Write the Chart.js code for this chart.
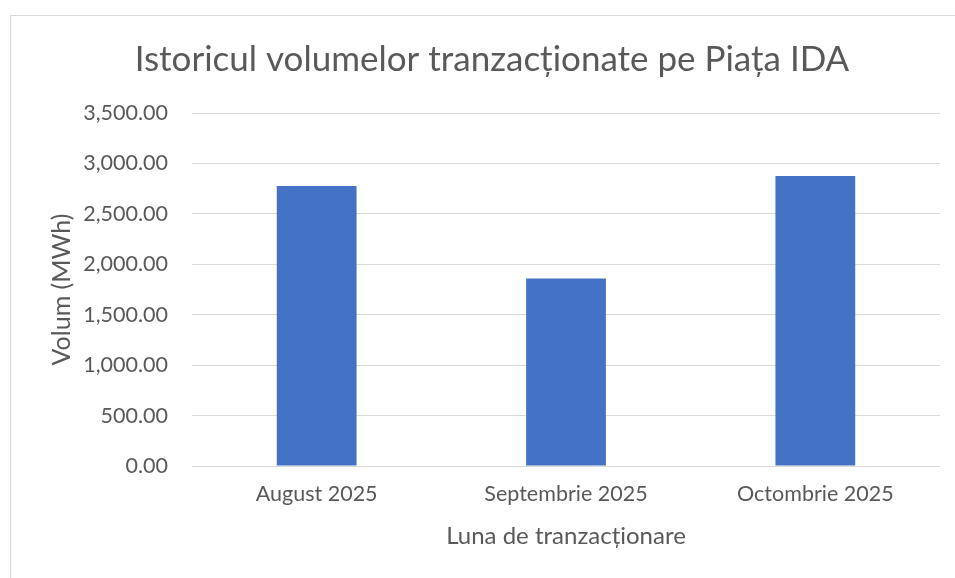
<!DOCTYPE html>
<html><head><meta charset="utf-8">
<script src="https://cdn.jsdelivr.net/npm/chart.js@4/dist/chart.umd.min.js"></script>
<style>
html,body{margin:0;padding:0;background:#fff;overflow:hidden;width:955px;height:578px;}
#frame{position:absolute;left:10px;top:15px;width:1000px;height:1000px;border:1px solid #d9d9d9;}
canvas{position:absolute;left:0;top:0;}
</style></head>
<body>
<div id="frame"></div>
<canvas id="c" width="955" height="578"></canvas>
<script>
const categories = ["August 2025", "Septembrie 2025", "Octombrie 2025"];
const volumes = [2775, 1860, 2875];
const yTicks = [0, 500, 1000, 1500, 2000, 2500, 3000, 3500];
const titleText = "Istoricul volumelor tranzacționate pe Piața IDA";
const yTitle = "Volum (MWh)";
const xTitle = "Luna de tranzacționare";

const FONT = "Lato, 'Open Sans', sans-serif";
const GREY = "#595959";

new Chart(document.getElementById('c'), {
  type: 'bar',
  data: {
    labels: categories,
    datasets: [{
      data: volumes,
      backgroundColor: '#4472c4',
      borderWidth: 0,
      categoryPercentage: 1,
      barPercentage: 0.32
    }]
  },
  options: {
    responsive: false,
    animation: false,
    devicePixelRatio: 1,
    layout: { padding: { left: 44, right: 15, top: 0, bottom: 0 } },
    plugins: {
      legend: { display: false },
      tooltip: { enabled: false },
      title: {
        display: true,
        text: titleText,
        color: GREY,
        font: { family: FONT, size: 35, weight: 'normal', lineHeight: 1.2 },
        padding: { top: 39, bottom: 32 }
      }
    },
    scales: {
      x: {
        grid: { display: false, drawTicks: false },
        border: { display: false },
        ticks: { color: GREY, font: { family: FONT, size: 21.5, lineHeight: 1.2 }, padding: 15, maxRotation: 0 },
        title: { display: true, text: xTitle, color: GREY, font: { family: FONT, size: 24, lineHeight: 1.2 }, padding: { top: 0, bottom: 27 } },
        afterFit: s => { s.height = 112; }
      },
      y: {
        min: 0, max: 3500,
        afterBuildTicks: s => { s.ticks = yTicks.map(v => ({ value: v })); },
        grid: { color: '#d9d9d9', lineWidth: 1, drawTicks: false },
        border: { display: false },
        ticks: {
          color: GREY, font: { family: FONT, size: 21.5 }, padding: 24,
          callback: v => Number(v).toLocaleString('en-US', { minimumFractionDigits: 2, maximumFractionDigits: 2 })
        },
        title: { display: true, text: yTitle, color: GREY, font: { family: FONT, size: 25, lineHeight: 1.2 }, padding: { top: 3, bottom: 0 } },
        afterFit: s => { s.width = 148; }
      }
    }
  }
});
</script>
</body></html>
